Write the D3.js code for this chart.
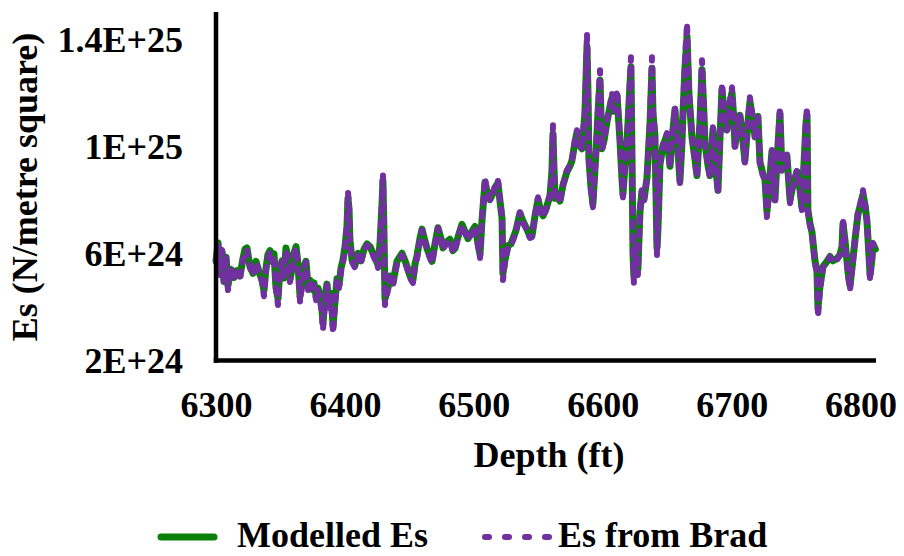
<!DOCTYPE html>
<html>
<head>
<meta charset="utf-8">
<script src="https://cdn.jsdelivr.net/npm/d3@7"></script>
<style>
  html, body { margin: 0; padding: 0; background: #fff; }
  svg text { font-family: "Liberation Serif", "Times New Roman", serif; font-weight: bold; fill: #000; }
</style>
</head>
<body>
<svg id="chart" width="904" height="556"></svg>
<script>
// Depth (ft)
const depth = [
6300.0,6301.6,6303.1,6304.7,6306.2,6307.8,6309.3,6311.6,6314.0,6316.3,
6318.6,6320.9,6322.5,6324.0,6326.4,6328.7,6331.0,6333.4,6335.7,6337.2,
6338.8,6340.3,6341.9,6343.4,6345.0,6346.5,6348.1,6349.6,6351.2,6352.7,
6354.3,6355.9,6357.4,6359.0,6360.5,6362.1,6363.6,6365.2,6366.7,6368.3,
6369.8,6371.4,6372.9,6374.5,6376.0,6377.6,6379.1,6380.7,6382.2,6383.0,
6384.6,6386.1,6387.7,6389.2,6390.8,6392.3,6393.9,6395.4,6397.0,6398.5,
6400.1,6401.6,6402.4,6403.2,6403.9,6405.5,6407.8,6410.1,6412.5,6414.8,
6417.1,6419.5,6421.8,6424.1,6425.7,6427.2,6428.8,6429.5,6430.3,6431.1,
6431.9,6433.4,6435.0,6437.3,6440.4,6442.7,6444.3,6446.6,6448.2,6450.5,
6452.8,6454.4,6455.9,6458.2,6459.8,6461.3,6463.7,6466.0,6467.6,6469.9,
6472.2,6474.5,6476.1,6478.4,6481.5,6483.8,6485.4,6487.7,6490.8,6493.1,
6495.5,6497.8,6500.9,6503.2,6504.8,6506.3,6508.7,6510.2,6512.5,6514.9,
6516.4,6518.7,6520.3,6521.9,6522.6,6524.2,6526.5,6528.8,6530.4,6532.7,
6535.8,6538.1,6541.2,6543.6,6545.1,6547.5,6549.8,6552.1,6553.7,6556.0,
6559.1,6560.6,6561.4,6562.2,6563.0,6564.5,6566.8,6569.2,6572.3,6574.6,
6576.1,6578.5,6580.0,6582.4,6583.9,6586.2,6587.8,6588.6,6589.3,6590.9,
6592.4,6594.8,6596.3,6597.9,6599.4,6601.0,6603.3,6605.6,6607.2,6608.7,
6611.1,6613.4,6614.9,6615.7,6617.3,6618.8,6620.4,6621.9,6622.7,6623.5,
6624.2,6625.8,6627.3,6628.9,6630.4,6632.0,6634.3,6636.7,6638.2,6639.0,
6640.5,6642.1,6642.9,6644.4,6646.7,6649.8,6652.2,6653.7,6656.0,6658.4,
6659.9,6661.5,6662.3,6663.8,6665.4,6666.9,6669.3,6671.6,6673.1,6675.4,
6677.0,6678.5,6679.3,6681.6,6683.2,6685.5,6687.1,6689.4,6690.9,6692.5,
6694.1,6696.4,6698.7,6700.3,6701.8,6702.6,6704.9,6706.4,6708.8,6710.3,
6712.7,6714.2,6716.6,6718.1,6720.4,6722.0,6724.3,6725.9,6727.4,6729.0,
6731.3,6732.8,6733.6,6735.2,6737.5,6739.0,6741.4,6742.9,6745.3,6747.6,
6750.7,6753.1,6754.6,6756.2,6757.7,6758.5,6759.2,6760.8,6762.3,6764.7,
6766.2,6767.0,6768.5,6770.9,6774.0,6776.3,6778.6,6781.7,6784.1,6785.6,
6786.4,6787.9,6790.3,6791.8,6793.4,6795.7,6798.0,6800.4,6801.9,6803.5,
6805.0,6807.4,6808.9,6809.6,6811.5
];

// Modelled Es (x 1E+24 N/m^2)
const modelledEs = [
5.72,6.38,5.30,6.05,4.95,5.85,4.80,5.40,5.10,5.35,
5.15,5.80,6.15,6.20,5.50,5.25,5.70,5.30,5.00,4.60,
5.45,5.95,6.10,5.75,5.98,4.75,4.30,5.40,5.72,5.08,
6.20,5.80,5.05,5.42,6.00,6.25,5.60,4.40,4.90,5.50,
5.70,4.75,5.00,4.65,4.90,4.40,4.70,4.45,3.90,3.40,
4.35,4.85,4.05,4.50,3.30,4.20,5.05,4.80,5.45,5.75,
6.25,7.00,8.05,7.65,6.50,5.75,5.55,6.00,5.72,6.15,
6.35,6.25,6.00,5.75,5.55,6.35,7.85,8.70,6.80,4.30,
4.45,4.70,5.15,4.90,5.70,5.88,6.00,5.72,5.50,5.15,
5.00,5.60,5.90,6.55,6.90,6.60,6.18,5.88,5.70,6.35,
6.95,6.55,6.20,6.40,6.52,6.10,6.18,6.60,7.08,6.82,
6.55,6.75,7.00,6.38,5.95,7.20,8.65,8.30,8.00,8.25,
8.45,8.62,7.95,7.30,5.25,5.75,6.28,6.35,6.55,6.85,
7.50,7.20,6.90,6.62,6.65,7.40,8.00,7.55,7.40,7.65,
8.15,9.05,10.45,9.20,8.05,8.20,7.95,8.55,9.05,9.25,
9.45,10.15,10.50,10.00,9.90,11.20,13.70,11.90,9.50,8.45,
7.85,9.80,11.20,12.45,9.90,10.20,10.90,11.45,11.80,11.30,
11.90,10.20,8.80,8.20,9.30,10.10,11.60,12.95,9.70,6.00,
5.15,6.25,5.40,7.55,8.30,8.00,8.80,10.85,12.90,11.20,
10.40,6.20,6.95,9.30,10.00,10.40,9.25,10.20,11.35,9.85,
8.70,10.15,11.25,12.90,14.10,11.95,10.30,9.50,8.90,10.85,
12.85,11.25,10.10,9.30,8.90,10.60,9.50,8.35,10.20,12.10,
11.30,10.60,11.60,12.00,10.95,10.00,10.75,11.15,10.20,9.45,
10.90,11.65,10.95,10.35,11.10,9.40,8.95,8.75,7.55,8.40,
9.80,8.75,8.00,9.45,11.20,9.10,9.25,9.65,8.00,8.55,
9.05,8.35,7.70,9.40,10.85,11.15,7.60,7.10,6.80,5.70,
5.35,3.95,4.75,5.50,5.70,5.88,5.72,5.80,5.95,6.25,
7.10,6.50,5.30,4.80,5.45,6.50,7.45,7.90,8.20,7.80,
7.20,5.20,5.80,6.35,6.15
];

// Es from Brad (x 1E+24 N/m^2)
const bradEs = [
5.67,6.30,5.19,6.12,4.81,5.93,4.63,5.45,5.00,5.30,
5.07,5.75,6.04,6.12,5.45,5.19,5.67,5.26,4.93,4.40,
5.37,5.82,6.04,5.67,5.93,4.63,4.07,5.45,5.67,5.00,
6.12,5.75,4.93,5.37,5.93,6.19,5.56,4.18,4.81,5.45,
5.67,4.63,4.93,4.55,4.81,4.25,4.63,4.33,3.70,3.14,
4.25,4.81,3.88,4.44,3.02,4.07,5.00,4.70,5.37,5.67,
6.19,7.05,8.28,7.80,6.49,5.67,5.45,5.93,5.67,6.12,
6.30,6.19,5.93,5.67,5.45,6.30,7.98,8.99,6.86,4.07,
4.33,4.63,5.11,4.81,5.63,5.82,5.93,5.67,5.45,5.07,
4.89,5.56,5.82,6.49,6.86,6.57,6.12,5.82,5.63,6.30,
6.94,6.49,6.12,6.34,6.49,6.04,6.12,6.57,7.05,6.79,
6.49,6.71,6.98,6.30,5.82,7.24,8.80,8.35,7.98,8.28,
8.47,8.73,7.98,7.35,5.00,5.67,6.23,6.30,6.49,6.79,
7.53,7.16,6.86,6.57,6.60,7.42,8.09,7.53,7.35,7.61,
8.17,9.10,10.78,9.29,7.98,8.17,7.87,8.54,9.10,9.29,
9.47,10.22,10.59,10.03,9.85,11.34,14.21,12.08,9.47,8.35,
7.72,9.85,11.34,12.83,9.85,10.22,10.96,11.52,11.97,11.34,
12.08,10.22,8.73,8.09,9.29,10.11,11.71,13.31,9.85,5.75,
4.89,6.30,5.19,7.61,8.35,7.98,8.84,10.96,13.31,11.34,
10.48,5.93,6.86,9.36,10.03,10.48,9.21,10.22,11.45,9.85,
8.62,10.22,11.34,13.20,14.58,12.08,10.33,9.47,8.84,10.96,
13.20,11.34,10.11,9.29,8.84,10.70,9.47,8.24,10.22,12.34,
11.34,10.59,11.71,12.19,10.96,9.96,10.78,11.22,10.22,9.36,
10.96,11.82,10.96,10.33,11.22,9.36,8.91,8.73,7.35,8.35,
9.85,8.73,7.87,9.47,11.45,9.10,9.29,9.73,7.87,8.54,
9.10,8.35,7.61,9.47,10.96,11.45,7.50,7.05,6.75,5.63,
5.26,3.62,4.63,5.48,5.67,5.86,5.67,5.75,5.93,6.23,
7.24,6.49,5.19,4.63,5.37,6.49,7.50,7.98,8.35,7.80,
7.24,5.00,5.75,6.38,6.12
];

const xTicks = [6300, 6400, 6500, 6600, 6700, 6800];
const yTicks = [2e24, 6e24, 1e25, 1.4e25];
const yTickLabels = ["2E+24", "6E+24", "1E+25", "1.4E+25"];
const seriesNames = ["Modelled Es", "Es from Brad"];
const seriesColors = ["#0a7f0a", "#7030a0"];

const svg = d3.select("#chart");
const x = d3.scaleLinear().domain([6300, 6812]).range([216, 876]);
const y = d3.scaleLinear().domain([2e24, 1.5e25]).range([360.5, 12]);

const line = d3.line()
  .x(d => x(d[0]))
  .y(d => y(d[1]));

const modelPts = depth.map((d, i) => [d, modelledEs[i] * 1e24]);
const bradPts = depth.map((d, i) => [d, bradEs[i] * 1e24]);

svg.append("path").datum(modelPts)
  .attr("d", line).attr("fill", "none")
  .attr("stroke", seriesColors[0]).attr("stroke-width", 7)
  .attr("stroke-linejoin", "round").attr("stroke-linecap", "round");

svg.append("path").datum(bradPts)
  .attr("d", line).attr("fill", "none")
  .attr("stroke", seriesColors[1]).attr("stroke-width", 6)
  .attr("stroke-dasharray", "5,9")
  .attr("stroke-linejoin", "round").attr("stroke-linecap", "round");

// Axes
const xAxis = d3.axisBottom(x).tickValues(xTicks).tickSize(0).tickFormat(d3.format("d"));
const gx = svg.append("g").attr("transform", `translate(0,${y(2e24)})`).call(xAxis);
gx.select(".domain").attr("stroke", "#000").attr("stroke-width", 4.5)
  .attr("d", `M${x(6300) - 2.25},0H${x(6812)}`);
gx.selectAll(".tick text").attr("y", 0).attr("dy", "56.5")
  .style("font-size", "36px").style("font-family", "Liberation Serif").style("font-weight", "bold").attr("fill", "#000");

const yAxis = d3.axisLeft(y).tickValues(yTicks).tickSize(0)
  .tickFormat((d, i) => yTickLabels[i]);
const gy = svg.append("g").attr("transform", `translate(${x(6300)},0)`).call(yAxis);
gy.select(".domain").attr("stroke", "#000").attr("stroke-width", 4.5)
  .attr("d", `M0,${y(1.5e25)}V${y(2e24) + 2.25}`);
gy.selectAll(".tick text").attr("x", -33).attr("dy", "0.34em")
  .style("font-size", "36px").style("font-family", "Liberation Serif").style("font-weight", "bold").attr("fill", "#000");

// Axis titles
svg.append("text").attr("x", 549).attr("y", 467).attr("text-anchor", "middle")
  .style("font-size", "36px").text("Depth (ft)");
svg.append("text").attr("transform", "translate(37,187) rotate(-90)")
  .attr("text-anchor", "middle").style("font-size", "36px").text("Es (N/metre square)");

// Legend
const leg = svg.append("g");
leg.append("line").attr("x1", 161).attr("x2", 214).attr("y1", 537).attr("y2", 537)
  .attr("stroke", seriesColors[0]).attr("stroke-width", 7).attr("stroke-linecap", "round");
leg.append("text").attr("x", 237).attr("y", 547).style("font-size", "36px").text(seriesNames[0]);
leg.append("line").attr("x1", 485).attr("x2", 549).attr("y1", 537).attr("y2", 537)
  .attr("stroke", seriesColors[1]).attr("stroke-width", 6).attr("stroke-linecap", "round")
  .attr("stroke-dasharray", "4,16");
leg.append("text").attr("x", 558).attr("y", 547).style("font-size", "36px").text(seriesNames[1]);
</script>
</body>
</html>
